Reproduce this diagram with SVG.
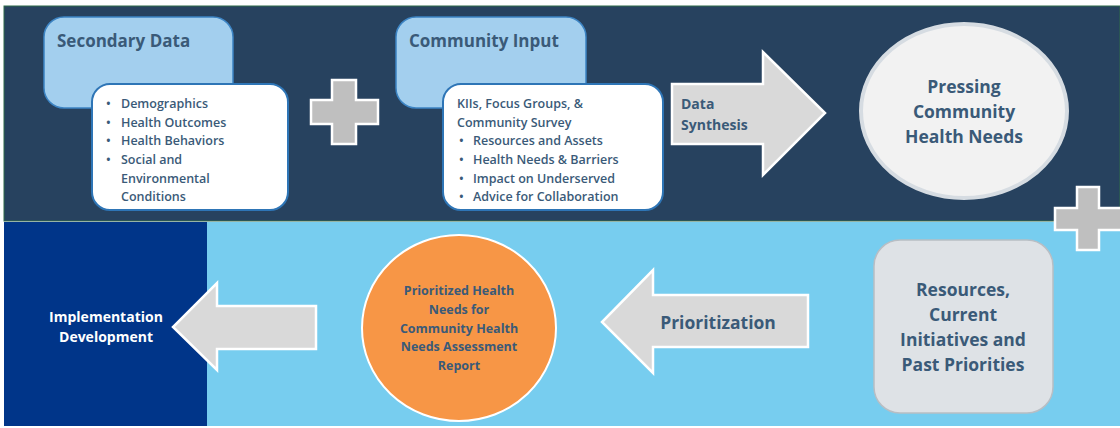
<svg xmlns="http://www.w3.org/2000/svg" width="1120" height="428" viewBox="0 0 1120 428">
<style>
text{font-family:"Open Sans","Liberation Sans",sans-serif;font-weight:bold;fill:#3A5A78}
.title{font-size:17px}
.item{font-size:12.5px;font-weight:600}
.big{font-size:17.5px}
.ctr{text-anchor:middle}
.arrow{fill:#D9D9D9;stroke:#FFFFFF;stroke-width:2.5}
.plus{fill:#BFBFBF;stroke:#FFFFFF;stroke-width:2.5}
.wbox{fill:#FFFFFF;stroke:#2E75B6;stroke-width:2}
.lbox{fill:#A3CFEE;stroke:#3C84C4;stroke-width:1.5}
</style>
<rect x="0" y="0" width="1120" height="428" fill="#FFFFFF"/>
<g id="background">
<rect x="4" y="6" width="1116" height="215" fill="#27425F" stroke="#2F6B4A" stroke-width="1"/>
<rect x="4" y="222" width="204" height="204" fill="#003589"/>
<rect x="207" y="222" width="913" height="204" fill="#77CDEF"/>
</g>
<g id="secondary-data">
<rect class="lbox" x="44" y="17" width="189" height="91" rx="20"/>
<text class="title" x="57" y="47">Secondary Data</text>
<rect class="wbox" x="92" y="84" width="196" height="126" rx="18"/>
<text class="item" x="106" y="108">•</text><text class="item" x="121" y="108">Demographics</text>
<text class="item" x="106" y="127">•</text><text class="item" x="121" y="127">Health Outcomes</text>
<text class="item" x="106" y="145">•</text><text class="item" x="121" y="145">Health Behaviors</text>
<text class="item" x="106" y="164">•</text><text class="item" x="121" y="164">Social and</text>
<text class="item" x="121" y="183">Environmental</text>
<text class="item" x="121" y="201">Conditions</text>
</g>
<g id="plus-1">
<path class="plus" d="M332,80 H356 V100 H378 V124 H356 V144 H332 V124 H311 V100 H332 Z"/>
</g>
<g id="community-input">
<rect class="lbox" x="396" y="17" width="190" height="91" rx="20"/>
<text class="title" x="409" y="47">Community Input</text>
<rect class="wbox" x="443" y="84" width="220" height="126" rx="18"/>
<text class="item" x="457" y="108">KIIs, Focus Groups, &amp;</text>
<text class="item" x="457" y="127">Community Survey</text>
<text class="item" x="459" y="145">•</text><text class="item" x="473" y="145">Resources and Assets</text>
<text class="item" x="459" y="164">•</text><text class="item" x="473" y="164">Health Needs &amp; Barriers</text>
<text class="item" x="459" y="183">•</text><text class="item" x="473" y="183">Impact on Underserved</text>
<text class="item" x="459" y="201">•</text><text class="item" x="473" y="201">Advice for Collaboration</text>
</g>
<g id="connectors">
<g id="data-synthesis">
<path class="arrow" d="M672,84 H763 V52 L825,113 L763,175 V144 H672 Z"/>
<text x="681" y="109" style="font-size:14px">Data</text>
<text x="681" y="130" style="font-size:14px">Synthesis</text>
</g>
<g id="prioritization">
<path class="arrow" d="M808,295 H653 V270 L602,322 L653,373 V347 H808 Z"/>
<text class="big ctr" x="718" y="329">Prioritization</text>
</g>
<g id="implementation-arrow">
<path class="arrow" d="M316,306 H217 V283 L173,327 L217,370 V349 H316 Z"/>
</g>
</g>
<g id="pressing-needs">
<ellipse cx="964" cy="111" rx="103" ry="87" fill="#F2F2F2" stroke="#D6DCE2" stroke-width="4"/>
<text class="big ctr" x="964" y="93">Pressing</text>
<text class="big ctr" x="964" y="118">Community</text>
<text class="big ctr" x="964" y="143">Health Needs</text>
</g>
<g id="plus-2">
<path class="plus" d="M1077,187 H1099 V208 H1124 V230 H1099 V250 H1077 V230 H1055 V208 H1077 Z"/>
</g>
<g id="resources">
<rect x="874" y="240" width="179" height="173" rx="26" fill="#DEE2E6" stroke="#B8BEC4" stroke-width="1.5"/>
<text class="big ctr" x="963" y="296">Resources,</text>
<text class="big ctr" x="963" y="321">Current</text>
<text class="big ctr" x="963" y="346">Initiatives and</text>
<text class="big ctr" x="963" y="371">Past Priorities</text>
</g>
<g id="prioritized-report">
<ellipse cx="459" cy="328" rx="97" ry="93" fill="#F79646" stroke="#FFFFFF" stroke-width="2"/>
<text class="ctr" x="459" y="295" style="font-size:12.5px">Prioritized Health</text>
<text class="ctr" x="459" y="314" style="font-size:12.5px">Needs for</text>
<text class="ctr" x="459" y="333" style="font-size:12.5px">Community Health</text>
<text class="ctr" x="459" y="351" style="font-size:12.5px">Needs Assessment</text>
<text class="ctr" x="459" y="370" style="font-size:12.5px">Report</text>
</g>
<g id="implementation">
<text class="ctr" x="106" y="322" style="font-size:14px;fill:#FFFFFF">Implementation</text>
<text class="ctr" x="106" y="342" style="font-size:14px;fill:#FFFFFF">Development</text>
</g>
</svg>
